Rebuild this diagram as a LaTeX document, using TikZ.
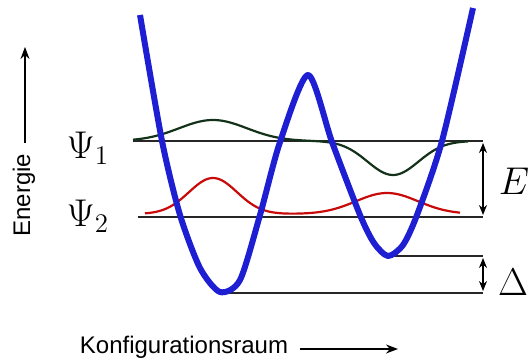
\documentclass[tikz,border=0pt]{standalone}
\usepackage{fontspec}
\setsansfont{Liberation Sans}
\usetikzlibrary{arrows.meta}
\definecolor{potblau}{RGB}{30,30,210}
\definecolor{wellerot}{RGB}{200,10,10}
\definecolor{wellegruen}{RGB}{20,50,25}
\newcommand{\gross}[1]{\scalebox{1.12}{#1}}
\tikzset{
  niveau/.style={line width=0.7pt, black!85},
  pfeil/.style={line width=0.6pt, -{Stealth[length=6pt,width=4.5pt]}},
  doppelpfeil/.style={line width=0.6pt, {Stealth[length=5pt,width=4pt]}-{Stealth[length=5pt,width=4pt]}},
  beschriftung/.style={font=\sffamily\fontsize{12}{14}\selectfont},
  formel/.style={font=\LARGE, inner sep=0pt}
}
\begin{document}
\begin{tikzpicture}[x=0.5pt,y=-0.5pt]
\useasboundingbox (0,0) rectangle (528,363);
% Niveaus
\coordinate (A1) at (133,141);
\coordinate (B1) at (483,141);
\coordinate (A2) at (138,217);
\coordinate (B2) at (483,217);
\coordinate (M2) at (388,256);
\coordinate (C2) at (483,256);
\coordinate (M1) at (220,293);
\coordinate (C1) at (483,293);
\draw [niveau] (A1) -- (B1);
\draw [niveau] (A2) -- (B2);
\draw [niveau] (M2) -- (C2);
\draw [niveau] (M1) -- (C1);
% Energiedifferenzen
\coordinate (E1) at (483,143);
\coordinate (E2) at (483,215);
\coordinate (D1) at (483,258);
\coordinate (D2) at (483,291);
\draw [doppelpfeil] (E1) -- (E2);
\draw [doppelpfeil] (D1) -- (D2);
\node [formel] (E) at (514,181) {\gross{$E$}};
\node [formel] (Delta) at (513,282) {\gross{$\Delta$}};
% Wellenfunktionen
\draw [wellegruen, line width=1.1pt] plot [domain=133:468, samples=120]
  (\x, {141 - 21*exp(-((\x-213)/48)^2) + 34*exp(-((\x-393)/36)^2)});
\draw [wellerot, line width=1.1pt] plot [domain=145:460, samples=120]
  (\x, {214 - 36*exp(-((\x-213)/34)^2) - 21*exp(-((\x-387)/44)^2)});
% Potential
\draw [potblau, line width=3pt, line join=round] plot [smooth, tension=0.45] coordinates
  {(140,15) (162,141) (180,215) (200,268) (220,292) (240,280) (260,215) (280,142) (308,75) (332,142) (360,215) (374,243) (388,256) (403,245) (417,215) (442,141) (473,8)};
\node [formel] (Psi1) at (88,148) {\gross{$\Psi_1$}};
\node [formel] (Psi2) at (88,216) {\gross{$\Psi_2$}};
% Achsen
\coordinate (EA) at (25,143);
\coordinate (EB) at (25,47);
\draw [pfeil] (EA) -- (EB);
\node [beschriftung, rotate=90] (energie) at (24,195) {Energie};
\node [beschriftung] (konf) at (184,347) {Konfigurationsraum};
\coordinate (KA) at (300,349);
\coordinate (KB) at (398,349);
\draw [pfeil] (KA) -- (KB);
\end{tikzpicture}
\end{document}
